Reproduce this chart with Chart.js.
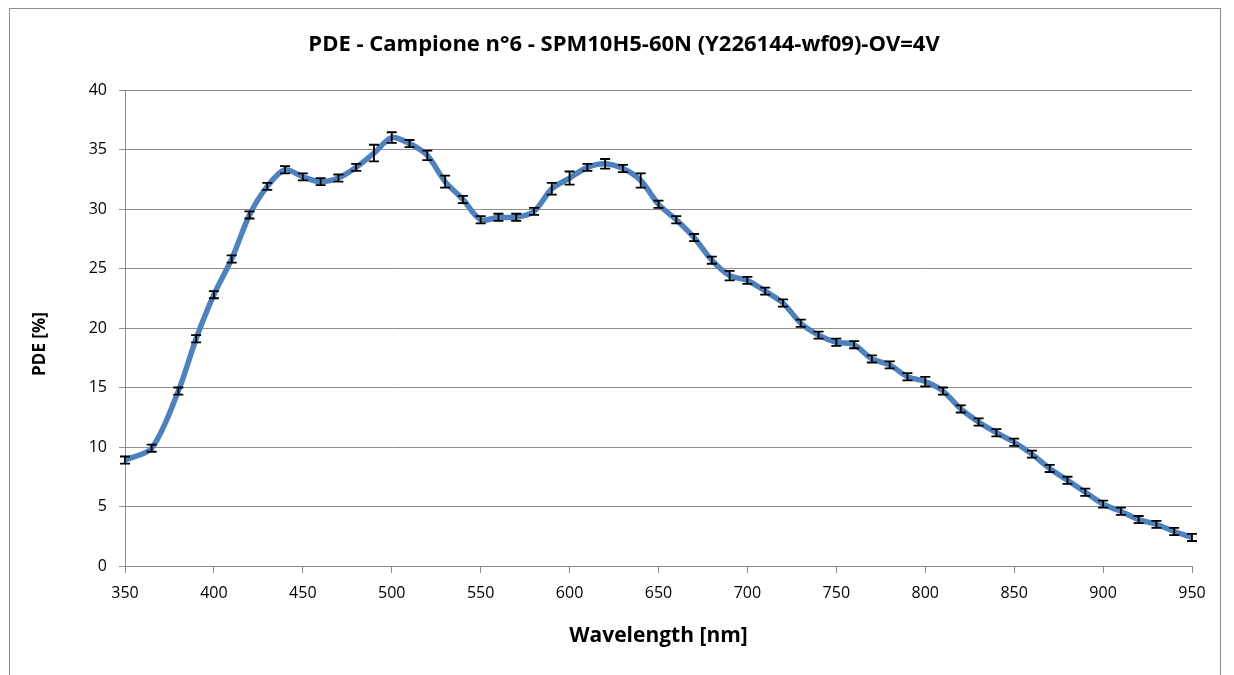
<!DOCTYPE html>
<html>
<head>
<meta charset="utf-8">
<script src="https://cdn.jsdelivr.net/npm/chart.js@4.4.1/dist/chart.umd.min.js"></script>
<style>
  html, body { margin: 0; padding: 0; background: #fff; }
  #wrap { position: relative; width: 1234px; height: 675px; overflow: hidden; }
  #frame { position: absolute; left: 9px; top: 8px; width: 1212px; height: 700px; border: 1px solid #8c8c8c; box-sizing: border-box; }
  #chart { position: absolute; left: 0; top: 0; }
</style>
</head>
<body>
<div id="wrap">
  <div id="frame"></div>
  <canvas id="chart" width="1234" height="675"></canvas>
</div>
<script>
// ===== Data =====
const wavelengths = [350, 365, 380, 390, 400, 410, 420, 430, 440, 450, 460, 470, 480, 490, 500, 510, 520, 530, 540, 550,
  560, 570, 580, 590, 600, 610, 620, 630, 640, 650, 660, 670, 680, 690, 700, 710, 720, 730, 740, 750,
  760, 770, 780, 790, 800, 810, 820, 830, 840, 850, 860, 870, 880, 890, 900, 910, 920, 930, 940, 950];
const pdeValues = [8.9, 9.9, 14.7, 19.1, 22.8, 25.8, 29.5, 31.9, 33.3, 32.7, 32.3, 32.6, 33.5, 34.7, 36.0, 35.5, 34.5, 32.3, 30.8, 29.1,
  29.3, 29.3, 29.8, 31.7, 32.6, 33.5, 33.8, 33.4, 32.4, 30.4, 29.1, 27.6, 25.7, 24.4, 24.0, 23.1, 22.1, 20.4, 19.4, 18.8,
  18.6, 17.4, 16.9, 15.9, 15.5, 14.7, 13.2, 12.1, 11.2, 10.4, 9.4, 8.2, 7.2, 6.2, 5.2, 4.6, 3.9, 3.5, 2.9, 2.4];
const pdeErrors = [0.3, 0.3, 0.3, 0.3, 0.3, 0.3, 0.3, 0.3, 0.3, 0.3, 0.3, 0.3, 0.3, 0.7, 0.45, 0.3, 0.4, 0.5, 0.3, 0.3,
  0.3, 0.3, 0.3, 0.5, 0.55, 0.3, 0.4, 0.3, 0.6, 0.3, 0.3, 0.3, 0.3, 0.4, 0.3, 0.3, 0.3, 0.3, 0.3, 0.3,
  0.3, 0.3, 0.3, 0.3, 0.4, 0.3, 0.3, 0.3, 0.3, 0.3, 0.3, 0.3, 0.3, 0.3, 0.3, 0.3, 0.3, 0.3, 0.3, 0.3];
const xTicks = { min: 350, max: 950, step: 50 };
const yTicks = { min: 0, max: 40, step: 5 };

const titleText = "PDE - Campione n°6 - SPM10H5-60N (Y226144-wf09)-OV=4V";
const xTitle = "Wavelength [nm]";
const yTitle = "PDE [%]";

const gridGray = "#8c8c8c";
const fontFamily = "'Open Sans', sans-serif";

// ===== Error bars + titles plugin =====
const errorBars = {
  id: "errorBars",
  afterDatasetsDraw(chart) {
    const xs = chart.scales.x;
    const ys = chart.scales.y;
    const ctx = chart.ctx;
    ctx.save();
    ctx.strokeStyle = "#000";
    ctx.lineWidth = 1.8;
    wavelengths.forEach((w, i) => {
      const x = xs.getPixelForValue(w);
      const yTop = ys.getPixelForValue(pdeValues[i] + pdeErrors[i]);
      const yBot = ys.getPixelForValue(pdeValues[i] - pdeErrors[i]);
      ctx.beginPath();
      ctx.moveTo(x, yTop);
      ctx.lineTo(x, yBot);
      ctx.moveTo(x - 5, yTop);
      ctx.lineTo(x + 5, yTop);
      ctx.moveTo(x - 5, yBot);
      ctx.lineTo(x + 5, yBot);
      ctx.stroke();
    });
    ctx.restore();
  },
  afterDraw(chart) {
    const ctx = chart.ctx;
    ctx.save();
    ctx.fillStyle = "#000";
    ctx.textAlign = "center";
    ctx.textBaseline = "middle";
    // chart title, centred on the whole frame
    ctx.font = "bold 22px " + fontFamily;
    ctx.fillText(titleText, 624, 45);
    // y axis title, a bit below the plot centre like the original
    ctx.translate(40, 344);
    ctx.rotate(-Math.PI / 2);
    ctx.font = "bold 17px " + fontFamily;
    ctx.fillText(yTitle, 0, 0);
    ctx.restore();
  }
};

new Chart(document.getElementById("chart"), {
  type: "line",
  data: {
    datasets: [{
      data: wavelengths.map((w, i) => ({ x: w, y: pdeValues[i] })),
      borderColor: "#4f81bd",
      borderWidth: 5.5,
      pointRadius: 0,
      tension: 0.3,
      fill: false
    }]
  },
  options: {
    responsive: false,
    animation: false,
    layout: { padding: { left: 0, right: 42, top: 90, bottom: 0 } },
    plugins: {
      legend: { display: false },
      tooltip: { enabled: false },
      title: { display: false }
    },
    scales: {
      x: {
        type: "linear",
        min: xTicks.min,
        max: xTicks.max,
        afterFit: (s) => { s.height = 109; },
        ticks: { stepSize: xTicks.step, color: "#000", padding: 11, font: { family: fontFamily, size: 16 } },
        grid: { drawOnChartArea: false, color: gridGray, tickLength: 7 },
        border: { color: gridGray },
        title: {
          display: true,
          text: xTitle,
          color: "#000",
          font: { family: fontFamily, size: 21, weight: "bold", lineHeight: 1.2 },
          padding: { top: 0, bottom: 26 }
        }
      },
      y: {
        min: yTicks.min,
        max: yTicks.max,
        afterFit: (s) => { s.width = 125; },
        ticks: { stepSize: yTicks.step, color: "#000", padding: 12, font: { family: fontFamily, size: 16 } },
        grid: { color: gridGray, tickLength: 6 },
        border: { color: gridGray }
      }
    }
  },
  plugins: [errorBars]
});
</script>
</body>
</html>
